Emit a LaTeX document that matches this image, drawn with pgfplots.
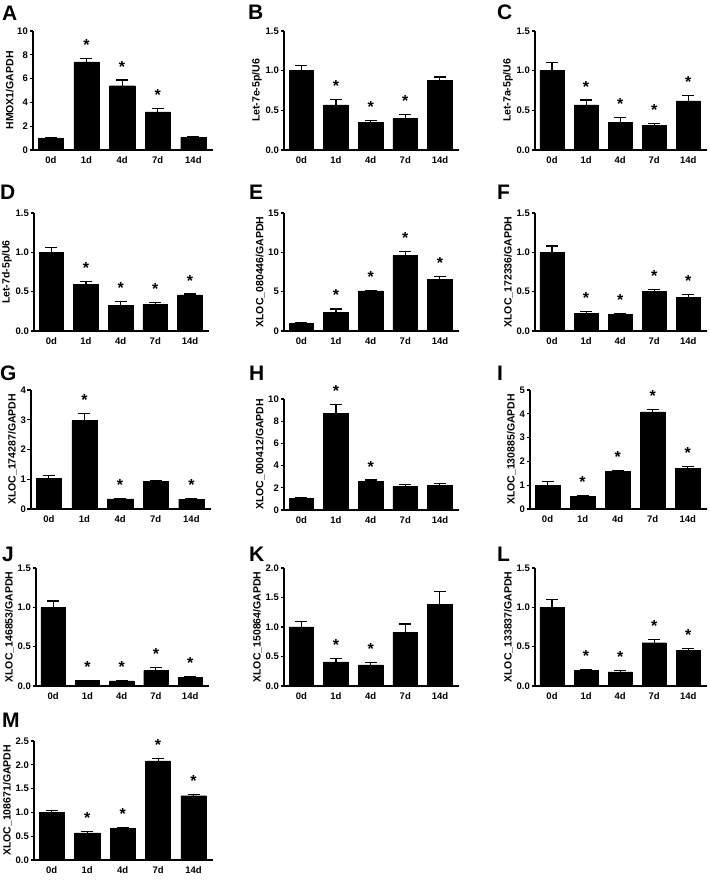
\documentclass[border=0pt]{standalone}
\usepackage{fontspec}
\setmainfont{Liberation Sans}
\usepackage{pgfplots}
\pgfplotsset{compat=1.18}

% Prism-like look shared by all panels
\pgfplotsset{
  prism/.style={
    scale only axis, anchor=south west, clip=false,
    axis x line=bottom, axis y line=left,
    axis line style={-, line width=1.1pt},
    every tick/.style={black, line width=1.1pt},
    major tick length=3.5pt, tick align=outside,
    xmin=-0.5, xmax=4.55, ymin=0, enlargelimits=false,
    xtick={0,1,2,3,4}, xticklabels={0d,1d,4d,7d,14d},
    xtick style={draw=none},
    tick label style={font=\fontsize{9.5}{10}\selectfont\bfseries},
    yticklabel style={inner sep=1.5pt},
    ylabel style={font=\fontsize{10.5}{11}\selectfont\bfseries, inner sep=0pt},
    ylabel shift=2pt,
    /pgf/number format/assume math mode=true,
  },
  dec/.style={yticklabel style={/pgf/number format/.cd, fixed, fixed zerofill, precision=1}},
  bars/.style={
    ybar, bar width=0.71, fill=black, draw=black,
    error bars/y dir=plus, error bars/y explicit,
    error bars/error bar style={line width=1.1pt, black},
    error bars/error mark options={rotate=90, mark size=6pt, line width=1.1pt, black},
  },
  stars/.style={
    draw=none, mark=none, nodes near coords={*},
    nodes near coords style={anchor=base, yshift=8pt, inner sep=0pt,
      font=\fontsize{16}{16}\selectfont\bfseries},
  },
}
\tikzset{letter/.style={anchor=base west, inner sep=0pt, font=\fontsize{21}{21}\selectfont\bfseries}}

\begin{document}
\begin{tikzpicture}[x=1pt, y=1pt]
\useasboundingbox (0,0) rectangle (709,882);

% ---- row 1
\node[letter] at (2,861) {A};
\begin{axis}[prism, at={(33pt,732pt)}, width=180pt, height=119pt,
  ymax=10, ytick={0,2,...,10}, ylabel={HMOX1/GAPDH}]
\addplot[bars] coordinates {(0,1.0)+-(0,0.06) (1,7.4)+-(0,0.3) (2,5.4)+-(0,0.48) (3,3.2)+-(0,0.25) (4,1.05)+-(0,0.06)};
\addplot[stars] coordinates {(1,7.7) (2,5.88) (3,3.45)};
\end{axis}

\node[letter] at (248,862) {B};
\begin{axis}[prism, dec, at={(284pt,732pt)}, width=175pt, height=119pt,
  ymax=1.5, ytick={0,0.5,1,1.5}, ylabel={Let-7e-5p/U6}]
\addplot[bars] coordinates {(0,1.0)+-(0,0.06) (1,0.57)+-(0,0.07) (2,0.345)+-(0,0.03) (3,0.40)+-(0,0.045) (4,0.88)+-(0,0.04)};
\addplot[stars] coordinates {(1,0.64) (2,0.375) (3,0.445)};
\end{axis}

\node[letter] at (497,862) {C};
\begin{axis}[prism, dec, at={(535pt,732pt)}, width=172pt, height=119pt,
  ymax=1.5, ytick={0,0.5,1,1.5}, ylabel={Let-7a-5p/U6}]
\addplot[bars] coordinates {(0,1.0)+-(0,0.1) (1,0.57)+-(0,0.06) (2,0.35)+-(0,0.065) (3,0.31)+-(0,0.025) (4,0.62)+-(0,0.065)};
\addplot[stars] coordinates {(1,0.63) (2,0.415) (3,0.335) (4,0.685)};
\end{axis}

% ---- row 2
\node[letter] at (0,682) {D};
\begin{axis}[prism, dec, at={(34pt,551pt)}, width=175pt, height=118pt,
  ymax=1.5, ytick={0,0.5,1,1.5}, ylabel={Let-7d-5p/U6}]
\addplot[bars] coordinates {(0,1.0)+-(0,0.06) (1,0.59)+-(0,0.04) (2,0.33)+-(0,0.04) (3,0.335)+-(0,0.03) (4,0.46)+-(0,0.01)};
\addplot[stars] coordinates {(1,0.63) (2,0.37) (3,0.365) (4,0.47)};
\end{axis}

\node[letter] at (249,682) {E};
\begin{axis}[prism, at={(284pt,551pt)}, width=175pt, height=118pt,
  ymax=15, ytick={0,5,10,15}, ylabel={XLOC\_080446/GAPDH}]
\addplot[bars] coordinates {(0,1.0)+-(0,0.1) (1,2.4)+-(0,0.4) (2,5.1)+-(0,0.1) (3,9.65)+-(0,0.45) (4,6.6)+-(0,0.3)};
\addplot[stars] coordinates {(1,2.8) (2,5.2) (3,10.1) (4,6.9)};
\end{axis}

\node[letter] at (497,682) {F};
\begin{axis}[prism, dec, at={(535pt,551pt)}, width=172pt, height=118pt,
  ymax=1.5, ytick={0,0.5,1,1.5}, ylabel={XLOC\_172336/GAPDH}]
\addplot[bars] coordinates {(0,1.0)+-(0,0.08) (1,0.225)+-(0,0.025) (2,0.21)+-(0,0.012) (3,0.5)+-(0,0.025) (4,0.43)+-(0,0.03)};
\addplot[stars] coordinates {(1,0.25) (2,0.222) (3,0.525) (4,0.46)};
\end{axis}

% ---- row 3
\node[letter] at (0,501) {G};
\begin{axis}[prism, at={(31pt,373pt)}, width=180pt, height=119pt,
  ymax=4, ytick={0,1,2,3,4}, ylabel={XLOC\_174287/GAPDH}]
\addplot[bars] coordinates {(0,1.02)+-(0,0.1) (1,2.97)+-(0,0.23) (2,0.34)+-(0,0.02) (3,0.93)+-(0,0.04) (4,0.33)+-(0,0.02)};
\addplot[stars] coordinates {(1,3.2) (2,0.36) (4,0.35)};
\end{axis}

\node[letter] at (249,501) {H};
\begin{axis}[prism, at={(284pt,372pt)}, width=175pt, height=111pt,
  ymax=10, ytick={0,2,...,10}, ylabel={XLOC\_000412/GAPDH}]
\addplot[bars] coordinates {(0,1.02)+-(0,0.08) (1,8.68)+-(0,0.82) (2,2.55)+-(0,0.15) (3,2.12)+-(0,0.16) (4,2.22)+-(0,0.15)};
\addplot[stars] coordinates {(1,9.5) (2,2.7)};
\end{axis}

\node[letter] at (497,501) {I};
\begin{axis}[prism, at={(530pt,373pt)}, width=177pt, height=119pt,
  ymax=5, ytick={0,1,2,3,4,5}, ylabel={XLOC\_130885/GAPDH}]
\addplot[bars] coordinates {(0,1.0)+-(0,0.16) (1,0.52)+-(0,0.05) (2,1.58)+-(0,0.05) (3,4.08)+-(0,0.1) (4,1.71)+-(0,0.06)};
\addplot[stars] coordinates {(1,0.57) (2,1.63) (3,4.18) (4,1.77)};
\end{axis}

% ---- row 4
\node[letter] at (2,320) {J};
\begin{axis}[prism, dec, at={(36pt,196pt)}, width=173pt, height=118pt,
  ymax=1.5, ytick={0,0.5,1,1.5}, ylabel={XLOC\_146853/GAPDH}]
\addplot[bars] coordinates {(0,1.0)+-(0,0.08) (1,0.07)+-(0,0.005) (2,0.065)+-(0,0.005) (3,0.2)+-(0,0.035) (4,0.11)+-(0,0.015)};
\addplot[stars] coordinates {(1,0.075) (2,0.07) (3,0.235) (4,0.125)};
\end{axis}

\node[letter] at (249,320) {K};
\begin{axis}[prism, dec, at={(284pt,196pt)}, width=175pt, height=118pt,
  ymax=2, ytick={0,0.5,1,1.5,2}, ylabel={XLOC\_150864/GAPDH}]
\addplot[bars] coordinates {(0,1.0)+-(0,0.1) (1,0.41)+-(0,0.06) (2,0.36)+-(0,0.04) (3,0.91)+-(0,0.14) (4,1.38)+-(0,0.22)};
\addplot[stars] coordinates {(1,0.47) (2,0.4)};
\end{axis}

\node[letter] at (497,320) {L};
\begin{axis}[prism, dec, at={(535pt,196pt)}, width=172pt, height=118pt,
  ymax=1.5, ytick={0,0.5,1,1.5}, ylabel={XLOC\_133837/GAPDH}]
\addplot[bars] coordinates {(0,1.0)+-(0,0.1) (1,0.195)+-(0,0.012) (2,0.18)+-(0,0.02) (3,0.55)+-(0,0.04) (4,0.455)+-(0,0.025)};
\addplot[stars] coordinates {(1,0.207) (2,0.2) (3,0.59) (4,0.48)};
\end{axis}

% ---- row 5
\node[letter] at (2,154) {M};
\begin{axis}[prism, dec, at={(34pt,22pt)}, width=179pt, height=119pt,
  ymax=2.5, ytick={0,0.5,1,1.5,2,2.5}, ylabel={XLOC\_108671/GAPDH}]
\addplot[bars] coordinates {(0,1.0)+-(0,0.04) (1,0.57)+-(0,0.02) (2,0.67)+-(0,0.015) (3,2.08)+-(0,0.05) (4,1.35)+-(0,0.03)};
\addplot[stars] coordinates {(1,0.59) (2,0.685) (3,2.13) (4,1.38)};
\end{axis}
\end{tikzpicture}
\end{document}
